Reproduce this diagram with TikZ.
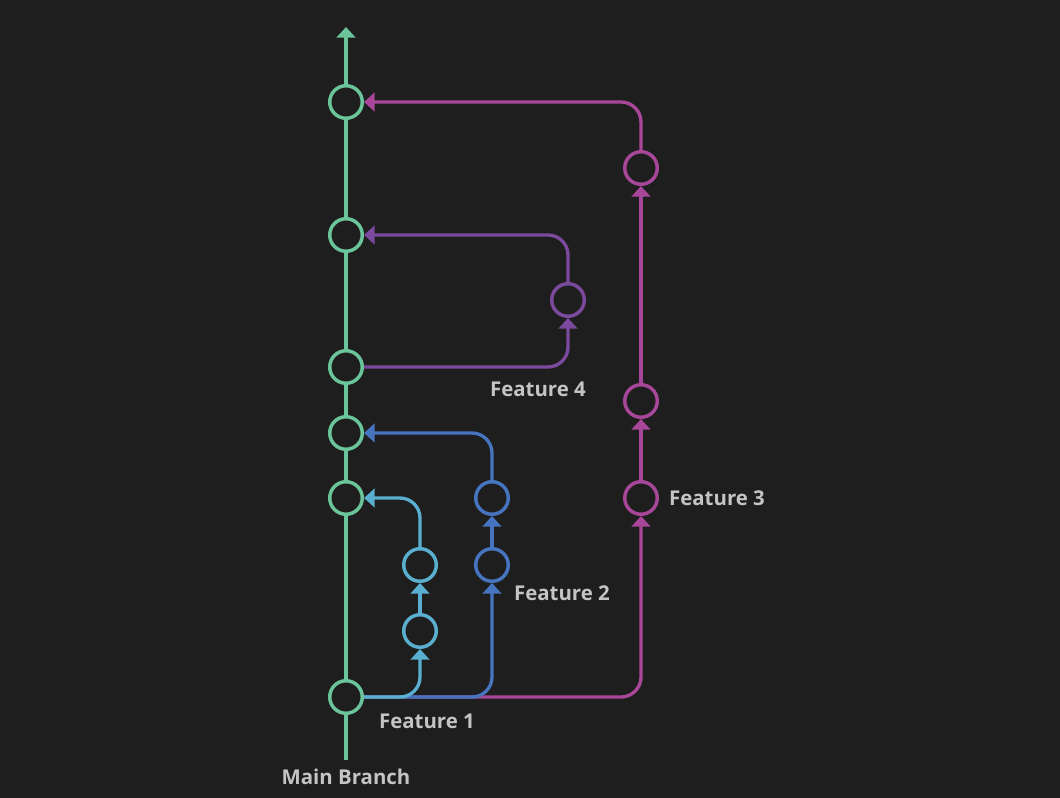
\documentclass[tikz,border=0pt]{standalone}
\usepackage{fontspec}
\setmainfont{Open Sans}
\usepackage{tikz}
\usetikzlibrary{arrows.meta}

\definecolor{bgdark}{HTML}{1E1E1E}
\definecolor{maingreen}{HTML}{6BC59B}
\definecolor{featlight}{HTML}{5AAFD0}
\definecolor{featblue}{HTML}{4674BE}
\definecolor{featpink}{HTML}{A8479A}
\definecolor{featpurple}{HTML}{7B4A9E}
\definecolor{labelgray}{HTML}{C4C4C4}

\begin{document}
\begin{tikzpicture}[
  x=0.75pt, y=-0.75pt,
  font=\bfseries\fontsize{15.3}{18}\selectfont,
  >={Triangle[width=14pt,length=8pt]},
  commit/.style={circle, draw=#1, fill=bgdark, line width=2.6pt, minimum size=24.4pt, inner sep=0pt},
  flow/.style={draw=#1, line width=2.5pt, rounded corners=15pt},
  tag/.style={text=labelgray, inner sep=0pt}
]
  \fill[bgdark] (0,0) rectangle (1060,798);
  \useasboundingbox (0,0) rectangle (1060,798);

  % main branch
  \coordinate (mbot) at (346,760);
  \coordinate (mtop) at (346,27);
  \node[commit=maingreen] (mA) at (346,697) {};
  \node[commit=maingreen] (mB) at (346,498) {};
  \node[commit=maingreen] (mC) at (346,433) {};
  \node[commit=maingreen] (mD) at (346,367) {};
  \node[commit=maingreen] (mE) at (346,235) {};
  \node[commit=maingreen] (mF) at (346,102) {};
  \draw[flow=maingreen] (mbot) -- (mA);
  \foreach \a/\b in {mA/mB, mB/mC, mC/mD, mD/mE, mE/mF}
    \draw[flow=maingreen] (\a) -- (\b);
  \draw[flow=maingreen, ->] (mF) -- (mtop);

  % feature commits
  \node[commit=featlight] (fa1) at (420,631) {};
  \node[commit=featlight] (fa2) at (420,565) {};
  \node[commit=featblue] (fb1) at (492,565) {};
  \node[commit=featblue] (fb2) at (492,498) {};
  \node[commit=featpink] (fc1) at (641,498) {};
  \node[commit=featpink] (fc2) at (641,401) {};
  \node[commit=featpink] (fc3) at (641,168) {};
  \node[commit=featpurple] (fd1) at (568,300) {};

  % feature 3
  \draw[flow=featpink, ->] (mA.east) -| (fc1.south);
  \draw[flow=featpink, ->] (fc1) -- (fc2);
  \draw[flow=featpink, ->] (fc2) -- (fc3);
  \draw[flow=featpink, ->] (fc3.north) |- (mF.east);

  % feature 2
  \draw[flow=featblue, ->] (mA.east) -| (fb1.south);
  \draw[flow=featblue, ->] (fb1) -- (fb2);
  \draw[flow=featblue, ->] (fb2.north) |- (mC.east);

  % feature 1
  \draw[flow=featlight, ->] (mA.east) -| (fa1.south);
  \draw[flow=featlight, ->] (fa1) -- (fa2);
  \draw[flow=featlight, ->] (fa2.north) |- (mB.east);

  % feature 4
  \draw[flow=featpurple, ->] (mD.east) -| (fd1.south);
  \draw[flow=featpurple, ->] (fd1.north) |- (mE.east);

  \node[tag] (lmain) at (346,777) {Main Branch};
  \node[tag] (lfa) at (427,721) {Feature 1};
  \node[tag] (lfb) at (562,593) {Feature 2};
  \node[tag] (lfc) at (717,498) {Feature 3};
  \node[tag] (lfd) at (538,389) {Feature 4};
\end{tikzpicture}
\end{document}
